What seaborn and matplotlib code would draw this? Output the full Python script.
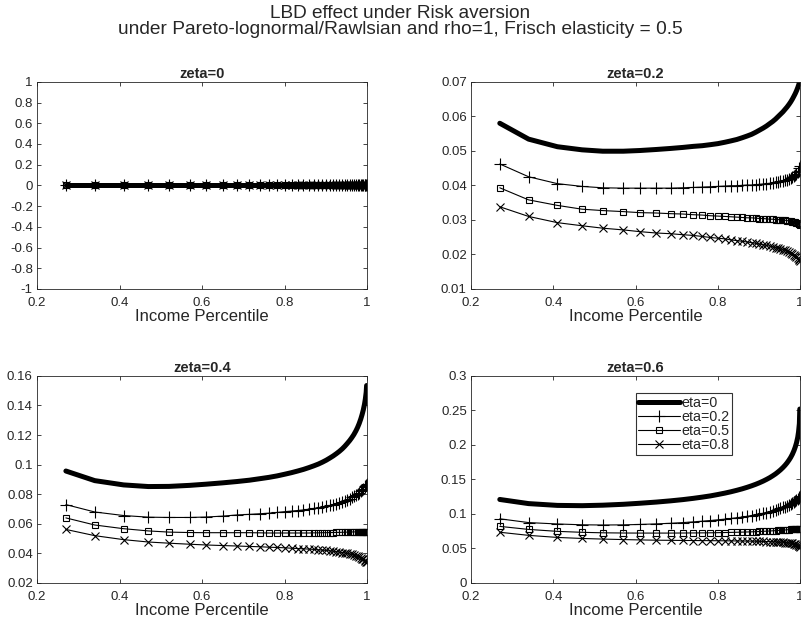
import numpy as np
import pandas as pd
import matplotlib
matplotlib.use("Agg")
import matplotlib.pyplot as plt
import seaborn as sns
from matplotlib.ticker import FuncFormatter, MultipleLocator

# ---------------- data ----------------
income_pct = [0.27, 0.34, 0.41, 0.47, 0.52, 0.57, 0.61, 0.65, 0.685, 0.715,
              0.74, 0.762, 0.782, 0.80, 0.817, 0.832, 0.846, 0.859, 0.871, 0.882,
              0.892, 0.901, 0.91, 0.918, 0.926, 0.933, 0.94, 0.946, 0.952, 0.958,
              0.963, 0.968, 0.973, 0.977, 0.981, 0.985, 0.988, 0.991, 0.994, 0.996,
              0.998, 0.999]

eta_labels = ["eta=0", "eta=0.2", "eta=0.5", "eta=0.8"]
zeta_titles = ["zeta=0", "zeta=0.2", "zeta=0.4", "zeta=0.6"]

zeta0_all = [0.0] * 42

z02_eta0 = [0.0580, 0.0534, 0.0512, 0.0503, 0.0499, 0.0499, 0.0501, 0.0504, 0.0507, 0.0510,
            0.0513, 0.0515, 0.0518, 0.0521, 0.0525, 0.0529, 0.0533, 0.0538, 0.0543, 0.0548,
            0.0554, 0.0560, 0.0566, 0.0572, 0.0579, 0.0585, 0.0592, 0.0599, 0.0606, 0.0613,
            0.0620, 0.0627, 0.0635, 0.0642, 0.0650, 0.0659, 0.0666, 0.0674, 0.0683, 0.0690,
            0.0697, 0.0700]
z02_eta02 = [0.0462, 0.0425, 0.0405, 0.0397, 0.0393, 0.0392, 0.0392, 0.0392, 0.0392, 0.0393,
             0.0394, 0.0395, 0.0396, 0.0397, 0.0398, 0.0399, 0.0399, 0.0400, 0.0401, 0.0401,
             0.0402, 0.0403, 0.0404, 0.0405, 0.0406, 0.0408, 0.0409, 0.0410, 0.0412, 0.0413,
             0.0415, 0.0417, 0.0419, 0.0421, 0.0424, 0.0427, 0.0430, 0.0434, 0.0438, 0.0443,
             0.0449, 0.0455]
z02_eta05 = [0.0393, 0.0358, 0.0342, 0.0331, 0.0327, 0.0324, 0.0321, 0.0320, 0.0318, 0.0317,
             0.0315, 0.0314, 0.0312, 0.0311, 0.0310, 0.0309, 0.0308, 0.0307, 0.0306, 0.0306,
             0.0305, 0.0304, 0.0304, 0.0303, 0.0302, 0.0302, 0.0301, 0.0301, 0.0300, 0.0299,
             0.0299, 0.0298, 0.0297, 0.0296, 0.0295, 0.0294, 0.0293, 0.0292, 0.0291, 0.0289,
             0.0287, 0.0285]
z02_eta08 = [0.0338, 0.0310, 0.0292, 0.0283, 0.0276, 0.0271, 0.0266, 0.0262, 0.0260, 0.0257,
             0.0255, 0.0252, 0.0249, 0.0247, 0.0245, 0.0242, 0.0240, 0.0238, 0.0236, 0.0234,
             0.0232, 0.0230, 0.0228, 0.0226, 0.0224, 0.0222, 0.0220, 0.0218, 0.0216, 0.0214,
             0.0212, 0.0210, 0.0207, 0.0205, 0.0202, 0.0199, 0.0196, 0.0193, 0.0190, 0.0187,
             0.0183, 0.0180]

z04_eta0 = [0.0957, 0.0892, 0.0863, 0.0852, 0.0853, 0.0860, 0.0868, 0.0877, 0.0886, 0.0895,
            0.0905, 0.0914, 0.0924, 0.0935, 0.0946, 0.0957, 0.0968, 0.0980, 0.0992, 0.1004,
            0.1017, 0.1030, 0.1045, 0.1059, 0.1075, 0.1090, 0.1107, 0.1124, 0.1143, 0.1163,
            0.1182, 0.1203, 0.1228, 0.1251, 0.1278, 0.1310, 0.1338, 0.1370, 0.1410, 0.1445,
            0.1490, 0.1535]
z04_eta02 = [0.0730, 0.0680, 0.0656, 0.0645, 0.0643, 0.0643, 0.0646, 0.0652, 0.0660, 0.0664,
             0.0668, 0.0672, 0.0677, 0.0682, 0.0686, 0.0690, 0.0694, 0.0699, 0.0704, 0.0709,
             0.0714, 0.0719, 0.0724, 0.0730, 0.0736, 0.0742, 0.0749, 0.0756, 0.0763, 0.0771,
             0.0778, 0.0786, 0.0795, 0.0803, 0.0811, 0.0821, 0.0829, 0.0838, 0.0848, 0.0855,
             0.0862, 0.0866]
z04_eta05 = [0.0640, 0.0592, 0.0567, 0.0552, 0.0544, 0.0541, 0.0540, 0.0540, 0.0540, 0.0540,
             0.0539, 0.0538, 0.0538, 0.0538, 0.0538, 0.0538, 0.0538, 0.0538, 0.0539, 0.0539,
             0.0540, 0.0540, 0.0541, 0.0541, 0.0542, 0.0542, 0.0543, 0.0543, 0.0544, 0.0544,
             0.0545, 0.0545, 0.0546, 0.0546, 0.0546, 0.0547, 0.0547, 0.0547, 0.0547, 0.0547,
             0.0546, 0.0545]
z04_eta08 = [0.0562, 0.0520, 0.0493, 0.0477, 0.0469, 0.0462, 0.0457, 0.0453, 0.0450, 0.0447,
             0.0445, 0.0442, 0.0440, 0.0438, 0.0435, 0.0433, 0.0431, 0.0429, 0.0427, 0.0424,
             0.0422, 0.0420, 0.0417, 0.0415, 0.0412, 0.0409, 0.0406, 0.0403, 0.0400, 0.0396,
             0.0393, 0.0389, 0.0384, 0.0380, 0.0375, 0.0370, 0.0365, 0.0360, 0.0354, 0.0349,
             0.0344, 0.0340]

z06_eta0 = [0.1210, 0.1150, 0.1124, 0.1120, 0.1127, 0.1140, 0.1155, 0.1172, 0.1190, 0.1208,
            0.1226, 0.1244, 0.1262, 0.1282, 0.1302, 0.1322, 0.1343, 0.1364, 0.1386, 0.1408,
            0.1430, 0.1452, 0.1476, 0.1500, 0.1526, 0.1552, 0.1580, 0.1608, 0.1638, 0.1672,
            0.1704, 0.1740, 0.1782, 0.1820, 0.1865, 0.1920, 0.1970, 0.2030, 0.2110, 0.2190,
            0.2310, 0.2520]
z06_eta02 = [0.0930, 0.0875, 0.0855, 0.0843, 0.0840, 0.0842, 0.0848, 0.0856, 0.0865, 0.0875,
             0.0885, 0.0895, 0.0905, 0.0915, 0.0925, 0.0935, 0.0945, 0.0955, 0.0966, 0.0977,
             0.0988, 0.0999, 0.1010, 0.1021, 0.1033, 0.1045, 0.1057, 0.1069, 0.1081, 0.1094,
             0.1106, 0.1119, 0.1133, 0.1146, 0.1160, 0.1176, 0.1189, 0.1203, 0.1220, 0.1234,
             0.1250, 0.1265]
z06_eta05 = [0.0820, 0.0776, 0.0748, 0.0734, 0.0727, 0.0724, 0.0723, 0.0723, 0.0723, 0.0724,
             0.0725, 0.0726, 0.0727, 0.0729, 0.0731, 0.0733, 0.0735, 0.0737, 0.0739, 0.0741,
             0.0743, 0.0746, 0.0748, 0.0751, 0.0753, 0.0756, 0.0758, 0.0761, 0.0763, 0.0766,
             0.0768, 0.0771, 0.0773, 0.0775, 0.0777, 0.0779, 0.0781, 0.0782, 0.0783, 0.0784,
             0.0784, 0.0784]
z06_eta08 = [0.0735, 0.0690, 0.0660, 0.0645, 0.0636, 0.0629, 0.0624, 0.0620, 0.0618, 0.0616,
             0.0615, 0.0614, 0.0613, 0.0612, 0.0611, 0.0610, 0.0609, 0.0608, 0.0607, 0.0606,
             0.0605, 0.0603, 0.0602, 0.0600, 0.0599, 0.0597, 0.0595, 0.0593, 0.0591, 0.0589,
             0.0586, 0.0583, 0.0580, 0.0577, 0.0573, 0.0568, 0.0563, 0.0557, 0.0549, 0.0541,
             0.0530, 0.0515]

panels = [
    [zeta0_all, zeta0_all, zeta0_all, zeta0_all],
    [z02_eta0, z02_eta02, z02_eta05, z02_eta08],
    [z04_eta0, z04_eta02, z04_eta05, z04_eta08],
    [z06_eta0, z06_eta02, z06_eta05, z06_eta08],
]

# ---------------- style ----------------
sns.set_theme(style="ticks")
plt.rcParams["font.family"] = ["Liberation Sans", "DejaVu Sans"]
plt.rcParams["axes.edgecolor"] = "#262626"
plt.rcParams["axes.linewidth"] = 0.6
plt.rcParams["xtick.color"] = "#262626"
plt.rcParams["ytick.color"] = "#262626"

series_style = [
    dict(marker=None, linewidth=3.6),
    dict(marker="+", linewidth=0.8, markersize=8, markeredgewidth=0.8,
         markeredgecolor="black"),
    dict(marker="s", linewidth=0.8, markersize=5, markeredgewidth=0.8,
         markerfacecolor="none", markeredgecolor="black"),
    dict(marker="x", linewidth=0.8, markersize=6, markeredgewidth=0.8,
         markeredgecolor="black"),
]

ylims = [(-1, 1), (0.01, 0.07), (0.02, 0.16), (0, 0.3)]
ysteps = [0.2, 0.01, 0.02, 0.05]

fig = plt.figure(figsize=(8.01, 6.20), dpi=100)
positions = [
    [0.0462, 0.534, 0.412, 0.334],
    [0.588, 0.534, 0.411, 0.334],
    [0.0462, 0.0597, 0.412, 0.334],
    [0.588, 0.0597, 0.411, 0.334],
]

fmt = FuncFormatter(lambda v, p: ("%g" % round(v, 6)))

for i, pos in enumerate(positions):
    ax = fig.add_axes(pos)
    for j, yvals in enumerate(panels[i]):
        df = pd.DataFrame({"x": income_pct, "y": yvals})
        sns.lineplot(data=df, x="x", y="y", ax=ax, color="black", sort=False,
                     estimator=None, label=eta_labels[j], legend=False,
                     **series_style[j])
    ax.set_xlim(0.2, 1.0)
    ax.set_ylim(*ylims[i])
    ax.xaxis.set_major_locator(MultipleLocator(0.2))
    ax.yaxis.set_major_locator(MultipleLocator(ysteps[i]))
    ax.xaxis.set_major_formatter(fmt)
    ax.yaxis.set_major_formatter(fmt)
    ax.tick_params(direction="in", length=3, width=0.6, labelsize=9.5,
                   top=True, right=True, pad=3)
    ax.tick_params(axis="x", pad=5.5)
    for s in ax.spines.values():
        s.set_visible(True)
    ax.set_title(zeta_titles[i], fontsize=10.5, fontweight="bold", pad=3)
    ax.set_ylabel("")
    ax.set_xlabel("Income Percentile", fontsize=12, labelpad=0)
    if i == 3:
        leg = ax.legend(loc="upper left", bbox_to_anchor=(0.50, 0.918),
                        fontsize=10.3, frameon=True, fancybox=False,
                        edgecolor="black", handlelength=2.9, handletextpad=0.1,
                        borderpad=0.2, labelspacing=0.0, borderaxespad=0,
                        numpoints=1)
        leg.get_frame().set_linewidth(0.8)

fig.text(0.5, 0.979, "LBD effect under Risk aversion", ha="center", va="center",
         fontsize=13.7)
fig.text(0.5, 0.953, "under Pareto-lognormal/Rawlsian and rho=1, Frisch elasticity = 0.5",
         ha="center", va="center", fontsize=13.8)

fig.savefig("out.png", dpi=100, facecolor="white")
